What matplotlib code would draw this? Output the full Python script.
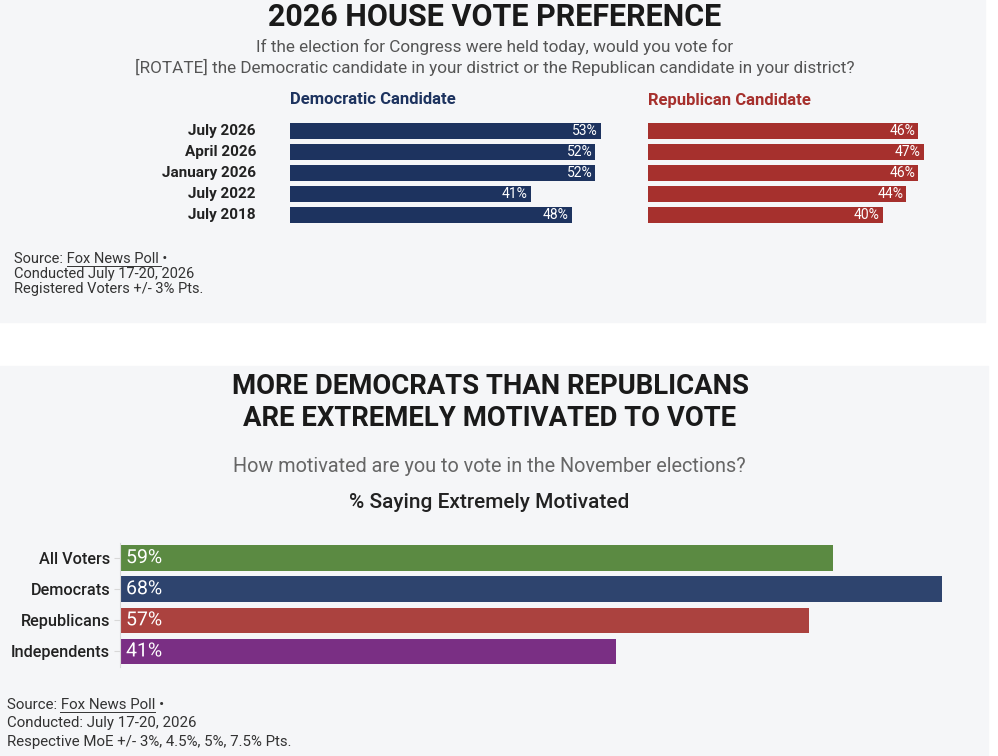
import matplotlib.pyplot as plt
import matplotlib.patheffects as pe
from matplotlib.patches import Rectangle

plt.rcParams['font.family'] = ['Roboto', 'DejaVu Sans']

W, H = 998, 756

# top chart data
periods = ['July 2026', 'April 2026', 'January 2026', 'July 2022', 'July 2018']
dem = [53, 52, 52, 41, 48]
rep = [46, 47, 46, 44, 40]

# bottom chart data
groups = ['All Voters', 'Democrats', 'Republicans', 'Independents']
motivated = [59, 68, 57, 41]
group_colors = ['#5b8a42', '#2e446e', '#ab423f', '#7a2f84']

navy = '#1d335f'
red = '#a6302d'
bg = '#f5f6f8'

fig = plt.figure(figsize=(W / 100, H / 100), dpi=100)
fig.patch.set_facecolor('white')


def ax_px(x0, y0, x1, y1):
    # pixel box (top-left origin) -> axes
    return fig.add_axes([x0 / W, 1 - y1 / H, (x1 - x0) / W, (y1 - y0) / H])


def fy(y):
    return 1 - y / H


# panel backgrounds
fig.patches.append(Rectangle((0, 1 - 322 / H), 985 / W, 322 / H, transform=fig.transFigure,
                             color=bg, zorder=-10))
fig.patches.append(Rectangle((0, 0), 988 / W, 390 / H, transform=fig.transFigure,
                             color=bg, zorder=-10))


def source_line(x, y, size, link_x0, link_x1):
    fig.text(x / W, fy(y), 'Source: Fox News Poll •', ha='left', va='center',
             fontsize=size, color='#333333')
    fig.add_artist(plt.Line2D([link_x0 / W, link_x1 / W], [fy(y + 7), fy(y + 7)],
                              color='#333333', lw=0.7))


# ---- top panel text
fig.text(495 / W, fy(17), '2026 HOUSE VOTE PREFERENCE', ha='center', va='center',
         fontsize=22, fontweight='bold', color='#1a1a1a')
fig.text(495 / W, fy(47), 'If the election for Congress were held today, would you vote for',
         ha='center', va='center', fontsize=12.3, color='#555555')
fig.text(495 / W, fy(67), '[ROTATE] the Democratic candidate in your district or the Republican candidate in your district?',
         ha='center', va='center', fontsize=12.3, color='#555555')
fig.text(290 / W, fy(100), 'Democratic Candidate', ha='left', va='center', fontsize=12,
         fontweight='bold', color=navy)
fig.text(648 / W, fy(100), 'Republican Candidate', ha='left', va='center', fontsize=12,
         fontweight='bold', color=red)

px_per = 5.87
for x0, vals, col in [(290, dem, navy), (648, rep, red)]:
    ax = ax_px(x0, 120.5, x0 + 55 * px_per, 225.5)
    ax.barh(range(len(vals)), vals, height=0.72, color=col)
    ax.set_xlim(0, 55)
    ax.set_ylim(len(vals) - 0.5, -0.5)
    ax.axis('off')
    for i, v in enumerate(vals):
        ax.text(v - 0.5, i, f'{v}%', ha='right', va='center', color='white', fontsize=10)
    if col == navy:
        for i, p in enumerate(periods):
            ax.text(-5.8, i, p, ha='right', va='center', fontsize=11, fontweight='bold',
                    color='#222222')

src_top = ['Conducted July 17-20, 2026', 'Registered Voters +/- 3% Pts.']
source_line(14, 259, 10.5, 67, 161)
for k, s in enumerate(src_top):
    fig.text(14 / W, fy(274 + 15 * k), s, ha='left', va='center', fontsize=10.5, color='#333333')

# ---- bottom panel
fig.text(490 / W, fy(387), 'MORE DEMOCRATS THAN REPUBLICANS', ha='center', va='center',
         fontsize=19.8, fontweight='bold', color='#1a1a1a')
fig.text(490 / W, fy(418), 'ARE EXTREMELY MOTIVATED TO VOTE', ha='center', va='center',
         fontsize=19.8, fontweight='bold', color='#1a1a1a')
fig.text(489 / W, fy(467), 'How motivated are you to vote in the November elections?',
         ha='center', va='center', fontsize=14.3, color='#666666')
fig.text(489 / W, fy(502), '% Saying Extremely Motivated', ha='center', va='center',
         fontsize=15, fontweight='medium', color='#222222')

ax2 = ax_px(120, 542.5, 120 + 72 * 12.09, 667)
y = range(len(motivated))
ax2.barh(y, motivated, height=0.82, color=group_colors)
ax2.set_xlim(0, 72)
ax2.set_ylim(len(motivated) - 0.5, -0.5)
ax2.set_facecolor('none')
for s in ['top', 'right', 'bottom']:
    ax2.spines[s].set_visible(False)
ax2.spines['left'].set_color('#d8d8d8')
ax2.set_xticks([])
ax2.set_yticks(list(y))
ax2.set_yticklabels(groups, fontsize=11.7, fontweight='medium', color='#222222')
ax2.tick_params(axis='y', length=4, color='#d8d8d8', pad=3)
for i, (v, c) in enumerate(zip(motivated, group_colors)):
    ax2.text(0.5, i, f'{v}%', ha='left', va='center', color='white', fontsize=14,
             path_effects=[pe.withStroke(linewidth=2, foreground=c)])

src_bot = ['Conducted: July 17-20, 2026', 'Respective MoE +/- 3%, 4.5%, 5%, 7.5% Pts.']
source_line(7, 705, 10.8, 60, 155)
for k, s in enumerate(src_bot):
    fig.text(7 / W, fy(723 + 19 * k), s, ha='left', va='center', fontsize=10.8, color='#333333')

fig.savefig('out.png', dpi=100, facecolor='white')
